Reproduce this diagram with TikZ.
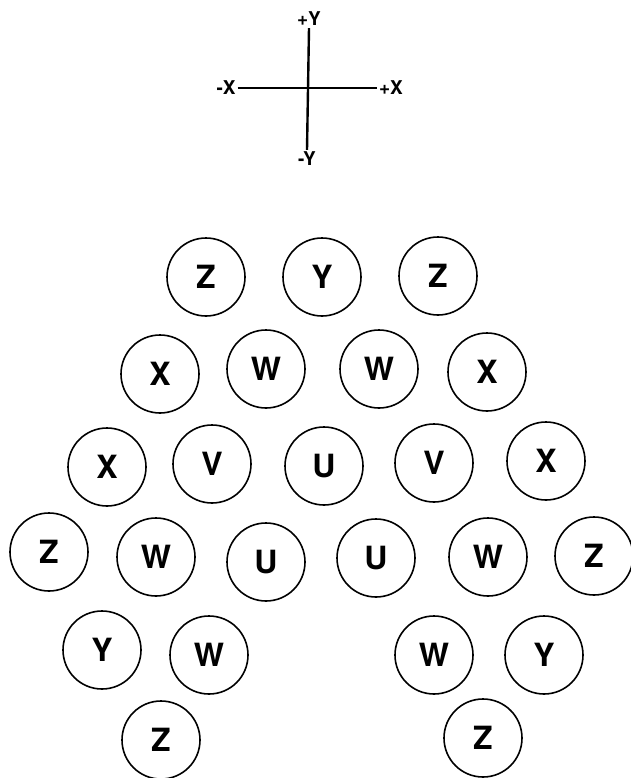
\documentclass[tikz,border=0pt]{standalone}
\usepackage{fontspec}
\setmainfont{TeX Gyre Heros}
\usetikzlibrary{positioning}

\begin{document}
\begin{tikzpicture}[
  x=1pt, y=-1pt,
  cell/.style={
    draw=black, line width=1.6pt, circle, minimum size=78pt,
    inner sep=0pt, font=\fontsize{32}{32}\selectfont\bfseries
  },
  axlbl/.style={font=\fontsize{19}{19}\selectfont\bfseries, inner sep=2pt},
  axis/.style={line width=2.4pt, black},
]

% Page
\useasboundingbox (0,0) rectangle (630,778);

% =============================================
% Orientation cross
% =============================================
\node[axlbl] (py) at (309,19)  {+Y};
\node[axlbl] (my) at (307,159) {-Y};
\node[axlbl] (mx) at (226,88)  {-X};
\node[axlbl] (px) at (391,88)  {+X};

\draw[axis] (py.south) -- (my.north);
\draw[axis] (mx.east) -- (px.west);

% =============================================
% Row 1
% =============================================
\node[cell] (z1) at (206,277) {Z};
\node[cell] (y1) at (322,277) {Y};
\node[cell] (z2) at (438,276) {Z};

% =============================================
% Row 2
% =============================================
\node[cell] (x1) at (160,374) {X};
\node[cell] (w1) at (266,369) {W};
\node[cell] (w2) at (379,369) {W};
\node[cell] (x2) at (487,372) {X};

% =============================================
% Row 3
% =============================================
\node[cell] (x3) at (107,467) {X};
\node[cell] (v1) at (212,464) {V};
\node[cell] (u1) at (324,466) {U};
\node[cell] (v2) at (434,463) {V};
\node[cell] (x4) at (546,461) {X};

% =============================================
% Row 4
% =============================================
\node[cell] (z3) at (49,552)  {Z};
\node[cell] (w3) at (156,557) {W};
\node[cell] (u2) at (266,562) {U};
\node[cell] (u3) at (376,558) {U};
\node[cell] (w4) at (488,557) {W};
\node[cell] (z4) at (594,556) {Z};

% =============================================
% Rows 5 and 6: two wings
% =============================================
\node[cell] (y2) at (102,650) {Y};
\node[cell] (w5) at (209,655) {W};
\node[cell] (w6) at (434,655) {W};
\node[cell] (y3) at (544,655) {Y};

\node[cell] (z5) at (161,740) {Z};
\node[cell] (z6) at (483,738) {Z};

\end{tikzpicture}
\end{document}
